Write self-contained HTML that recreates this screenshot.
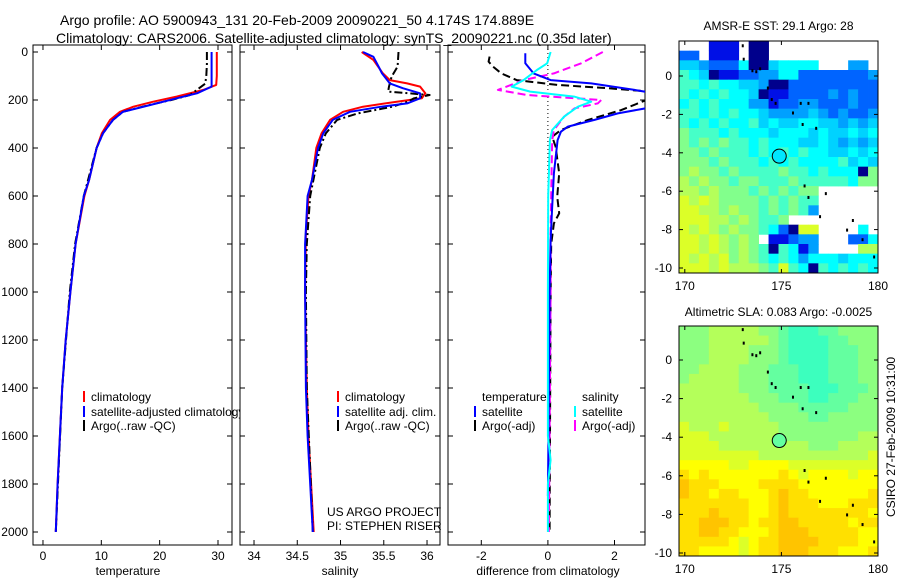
<!DOCTYPE html>
<html><head><meta charset="utf-8">
<style>
html,body{margin:0;padding:0;background:#fff;}
svg{display:block;font-family:"Liberation Sans",Arial,sans-serif;}
text{font-size:12px;fill:#000;}
</style></head>
<body>
<svg id="fig" width="900" height="580" viewBox="0 0 900 580" xmlns="http://www.w3.org/2000/svg">
<defs>
<clipPath id="c1"><rect x="33" y="45" width="199" height="500"/></clipPath>
<clipPath id="c1t"><rect x="33" y="45" width="207" height="500"/></clipPath>
<clipPath id="c2"><rect x="240" y="45" width="200" height="500"/></clipPath>
<clipPath id="c3"><rect x="448" y="45" width="197" height="500"/></clipPath>
</defs>
<text x="60" y="25" style="font-size:14px">Argo profile: AO 5900943_131 20-Feb-2009 20090221_50 4.174S 174.889E</text>
<text x="56" y="43" style="font-size:14px">Climatology: CARS2006. Satellite-adjusted climatology: synTS_20090221.nc (0.35d later)</text>
<g id="layer"></g>
</svg>
<script>
// ---------- profile data ----------
const tClimDepth=[0,50,100,137,158,186,207,228,249,283,338,400,533,600,800,1000,1200,1400,1600,1800,2000];
const tClim=[29.8,29.8,29.8,29.7,27.5,22.9,18.9,15.5,13.2,11.5,10.1,9.2,7.9,7.1,5.6,4.7,3.9,3.3,2.9,2.5,2.2];
const tSatDepth=[0,50,100,144,172,193,221,249,283,338,400,533,600,800,1000,1200,1400,1600,1800,2000];
const tSat=[28.9,28.9,28.9,28.9,26.4,22.9,18.4,13.7,12.0,10.3,9.2,7.9,7.0,5.6,4.7,3.9,3.3,2.9,2.5,2.2];
const tArgoDepth=[0,50,100,132,179,200,221,249,283,338,400,600,800,1000,1400,2000];
const tArgo=[28.1,28.1,28.0,27.8,25.2,22.0,18.2,13.7,12.0,10.3,9.2,7.0,5.5,4.6,3.3,2.2];

const sClimDepth=[0,33,89,117,131,144,172,193,207,228,249,283,339,400,533,600,757,1000,1400,1600,1800,2000];
const sClim=[35.245,35.38,35.49,35.57,35.77,35.92,35.98,35.94,35.65,35.26,35.03,34.88,34.78,34.72,34.67,34.63,34.6,34.59,34.61,34.63,34.66,34.69];
const sSatDepth=[0,20,61,89,131,151,172,193,214,228,249,283,339,400,533,600,800,1000,1400,1600,1800,2000];
const sSat=[35.26,35.38,35.44,35.48,35.57,35.72,35.92,35.92,35.77,35.47,35.11,34.91,34.80,34.74,34.67,34.62,34.59,34.59,34.60,34.62,34.65,34.68];
const sArgoDepth=[0,61,103,144,165,179,193,207,228,256,283,339,400,600,800,1000,1400,2000];
const sArgo=[35.67,35.66,35.59,35.56,35.55,36.03,35.85,35.78,35.60,35.20,34.96,34.83,34.76,34.65,34.61,34.60,34.61,34.68];

const dTSatDepth=[5,47,89,117,131,158,172,200,228,256,283,311,332,367,506,644,783,1000,1400,1850];
const dTSat=[-0.68,-0.68,-0.43,0.08,1.3,2.6,3.2,3.6,3.2,2.1,1.4,0.6,0.39,0.29,0.18,0.13,0.08,0.05,0.03,0.0];
const dTArgoDepth=[19,40,61,89,117,137,151,170,207,242,283,325,353,394,506,603,672,714,800,1000,2000];
const dTArgo=[-1.75,-1.78,-1.65,-1.4,-0.94,0.28,1.8,3.5,2.83,2.2,1.2,0.39,0.13,0.23,0.34,0.28,0.34,0.18,0.1,0.08,0.05];
const dSSatDepth=[0,47,75,117,144,165,186,207,228,269,325,367,506,600,1000,1600,1700,1800,2000];
const dSSat=[0.08,-0.02,-0.33,-0.73,-1.09,-0.53,0.79,1.3,0.9,0.49,0.13,0.06,0.03,0.01,0.0,0.0,0.08,0.0,0.0];
const dSArgoDepth=[0,47,89,117,158,179,200,214,235,269,325,367,500,756,1000,2000];
const dSArgo=[1.65,1.0,0.18,-0.73,-1.5,-0.63,1.6,1.5,0.8,0.49,0.18,0.13,0.11,0.08,0.08,0.03];

const depthTicks=[0,200,400,600,800,1000,1200,1400,1600,1800,2000];
const tempTicks=[0,10,20,30];
const salTicks=[34,34.5,35,35.5,36];
const salTickLabels=["34","34.5","35","35.5","36"];
const diffTicks=[-2,0,2];

// ---------- map data (rows north->south, cols west->east) ----------
const sstRows=[
"...111.00...........",
"22.111.00...........",
"44322250045555...33.",
"65401122335522222223",
"66565544300222222222",
"65656554011222232322",
"56565553312233222322",
"66565655433334323223",
"65656556454455443434",
"76665655545554544545",
"76767665655544543434",
"77676665656565544545",
"77767666565655556454",
"78776766667665655507",
"87877677666766666577",
"88787776767677......",
"98987777676766......",
"99887877676763......",
"99988787667.........",
"98987877652099....5.",
"99898787.11233...225",
"99898787606513....88",
"98989787656535554555",
"99989888769650656565"];
const slaRows=[
"77788888776555667777",
"77788888876555566777",
"77788887776555566677",
"77788887776555566677",
"77888877766655566677",
"78888877766655566677",
"88888877766665556667",
"88888887776665566677",
"88888888777766666777",
"88888888877776677777",
"98889888887777777777",
"99988888887777777788",
"99998888888887778888",
"99999999888888888889",
"aaaaa99aaaa999999999",
"babaaaaaaaba9aaaa9aa",
"cbbbaaaabbbbaaaaaaaa",
"cbbabbaaabcbbaaaaaab",
"bbbbbbbaabcbbbaaabbb",
"bbbcbbbaabcbbbbbbbba",
"bbcccbbabbccbbbbbabb",
"bbccbbaaabcccbbbbbaa",
"bbbbba9abbccccbbbbaa",
"bbaaaa9abbcccbbbaaab"];
const palette={"0":"#00008c","1":"#0010e6","2":"#0064ff","3":"#00a0ff","4":"#00d2ff","5":"#00ffff","6":"#46ffc8","7":"#82ff8c","8":"#b4ff5a","9":"#dcff28","a":"#ffff00","b":"#ffdc00","c":"#ffbe00"};
const slaPalette={"5":"#3cffbe","6":"#64ffa0","7":"#8cff80","8":"#b4ff5a","9":"#dcff28","a":"#ffff00","b":"#ffe000","c":"#ffc400"};
const latTicks=[0,-2,-4,-6,-8,-10];
const lonTicks=[170,175,180];
const argoLon=174.889, argoLat=-4.174;
const islandLon=[173.0,173.05,173.5,173.7,173.9,174.3,174.5,174.7,175.6,176.0,176.4,176.1,176.8,176.2,177.3,176.4,177.0,178.4,178.7,179.2,179.8];
const islandLat=[1.6,0.9,0.3,0.25,0.4,-0.6,-1.2,-1.4,-1.9,-1.4,-1.4,-2.5,-2.7,-5.7,-6.1,-6.3,-7.3,-8.0,-7.5,-8.5,-9.4];

// ---------- helpers ----------
const NS="http://www.w3.org/2000/svg";
const layer=document.getElementById('layer');
function mk(tag,attrs,parent){const e=document.createElementNS(NS,tag);for(const k in attrs)e.setAttribute(k,attrs[k]);(parent||layer).appendChild(e);return e;}
function txt(x,y,s,anchor,parent,size){const t=mk('text',{x:x,y:y,'text-anchor':anchor||'start'},parent);if(size)t.style.fontSize=size+'px';t.textContent=s;return t;}

const yTop=52, yPerM=0.24;
function yD(d){return yTop+d*yPerM;}
const panels=[
 {x0:33,x1:232,vmin:-1.71,vmax:32.4,name:'temperature'},
 {x0:240,x1:440,vmin:33.838,vmax:36.150,name:'salinity'},
 {x0:448,x1:645,vmin:-3.0,vmax:2.916,name:'difference'}];
function xP(p,v){return p.x0+(v-p.vmin)/(p.vmax-p.vmin)*(p.x1-p.x0);}
const pTop=45,pBot=545;

function drawLine(p,depths,vals,color,dash,clip,name){
  let d='';
  for(let i=0;i<vals.length;i++){d+=(i?'L':'M')+xP(p,vals[i]).toFixed(1)+','+yD(depths[i]).toFixed(1);}
  const el=mk('path',{d:d,fill:'none',stroke:color,'stroke-width':2,'clip-path':'url(#'+clip+')','stroke-linejoin':'round'});
  if(dash)el.setAttribute('stroke-dasharray',dash);
  
  
}

panels.forEach((p,pi)=>{
  const box=mk('rect',{x:p.x0,y:pTop,width:p.x1-p.x0,height:pBot-pTop,fill:'none',stroke:'#000','stroke-width':1});
  
  
  depthTicks.forEach(d=>{
    mk('line',{x1:p.x0,x2:p.x0+5,y1:yD(d),y2:yD(d),stroke:'#000'});
    mk('line',{x1:p.x1,x2:p.x1-5,y1:yD(d),y2:yD(d),stroke:'#000'});
  });
});
depthTicks.forEach(d=>{
  const t=txt(28,yD(d)+4,String(d),'end');
  
  
});
function xTicks(p,ticks,labels){
  ticks.forEach((v,i)=>{
    const x=xP(p,v);
    mk('line',{x1:x,x2:x,y1:pBot,y2:pBot-5,stroke:'#000'});
    mk('line',{x1:x,x2:x,y1:pTop,y2:pTop+5,stroke:'#000'});
    const t=txt(x,560,labels?labels[i]:String(v),'middle');
    
    
  });
}
xTicks(panels[0],tempTicks);
xTicks(panels[1],salTicks,salTickLabels);
xTicks(panels[2],diffTicks);
let t;
t=txt(128,575,'temperature','middle');
t=txt(340,575,'salinity','middle');
t=txt(548,575,'difference from climatology','middle');

const zl=mk('line',{x1:xP(panels[2],0),x2:xP(panels[2],0),y1:pTop,y2:yD(800),stroke:'#000','stroke-width':1,'stroke-dasharray':'1,3'});



drawLine(panels[0],tClimDepth,tClim,'#ff0000',null,'c1','temp-climatology-line');
drawLine(panels[0],tArgoDepth,tArgo,'#000000','8,3,2,3','c1','temp-argo-line');
drawLine(panels[0],tSatDepth,tSat,'#0000ff',null,'c1','temp-satellite-line');
drawLine(panels[1],sClimDepth,sClim,'#ff0000',null,'c2','sal-climatology-line');
drawLine(panels[1],sArgoDepth,sArgo,'#000000','8,3,2,3','c2','sal-argo-line');
drawLine(panels[1],sSatDepth,sSat,'#0000ff',null,'c2','sal-satellite-line');
drawLine(panels[2],dTArgoDepth,dTArgo,'#000000','8,4','c3','diff-temp-argo-line');
drawLine(panels[2],dSArgoDepth,dSArgo,'#ff00ff','8,4','c3','diff-sal-argo-line');
drawLine(panels[2],dTSatDepth,dTSat,'#0000ff',null,'c3','diff-temp-satellite-line');
drawLine(panels[2],dSSatDepth,dSSat,'#00ffff',null,'c3','diff-sal-satellite-line');

function legEntry(mx,tx,y,color,label,clip,name){
  const g=mk('g',{});
  if(clip)g.setAttribute('clip-path','url(#'+clip+')');
  
  
  if(color)mk('line',{x1:mx,x2:mx,y1:y-6,y2:y+5,stroke:color,'stroke-width':2},g);
  txt(tx,y+4,label,'start',g);
}
legEntry(84,91,397,'#ff0000','climatology','c1t','legend-temp-climatology');
legEntry(84,91,412,'#0000ff','satellite-adjusted climatology','c1t','legend-temp-satellite');
legEntry(84,91,426,'#000','Argo(..raw -QC)','c1t','legend-temp-argo');
legEntry(338,345,397,'#ff0000','climatology',null,'legend-sal-climatology');
legEntry(338,345,412,'#0000ff','satellite adj. clim.',null,'legend-sal-satellite');
legEntry(338,345,426,'#000','Argo(..raw -QC)',null,'legend-sal-argo');
legEntry(0,482,397,null,'temperature',null,'legend-temperature-header');
legEntry(475,482,412,'#0000ff','satellite',null,'legend-diff-temp-satellite');
legEntry(475,482,426,'#000','Argo(-adj)',null,'legend-diff-temp-argo');
legEntry(0,582,397,null,'salinity',null,'legend-salinity-header');
legEntry(575,582,412,'#00ffff','satellite',null,'legend-diff-sal-satellite');
legEntry(575,582,426,'#ff00ff','Argo(-adj)',null,'legend-diff-sal-argo');
t=txt(327,516,'US ARGO PROJECT');
t=txt(327,530,'PI: STEPHEN RISER');

// ---------- maps ----------
function drawMap(m){
  const lonX=v=>m.x0+(v-m.lonMin)/(m.lonMax-m.lonMin)*(m.x1-m.x0);
  const latY=v=>m.yLat0+(0-v)*m.pxPerDeg;
  const latTop=(m.yLat0-m.y0)/m.pxPerDeg, latBot=-(m.y1-m.yLat0)/m.pxPerDeg;
  const g=mk('g',{});
  
  
  const nr=m.rows.length, nc=m.rows[0].length;
  const dLat=(latTop-latBot)/nr, dLon=(m.lonMax-m.lonMin)/nc;
  for(let r=0;r<nr;r++)for(let c=0;c<nc;c++){
    const ch=m.rows[r][c]; if(ch==='.')continue;
    const x=lonX(m.lonMin+c*dLon), x2=lonX(m.lonMin+(c+1)*dLon);
    const y=latY(latTop-r*dLat), y2=latY(latTop-(r+1)*dLat);
    const cell=mk('rect',{x:x.toFixed(2),y:y.toFixed(2),width:(x2-x+0.4).toFixed(2),height:(y2-y+0.4).toFixed(2),fill:m.pal[ch]},g);
    
    
  }
  islandLon.forEach((lo,i)=>{
    const d=mk('rect',{x:lonX(lo)-1,y:latY(islandLat[i])-1,width:2,height:3,fill:'#000'},g);
    
    
  });
  const circ=mk('circle',{cx:lonX(argoLon),cy:latY(argoLat),r:7,fill:m.circleFill,stroke:'#000','stroke-width':1});
  
  
  const box=mk('rect',{x:m.x0,y:m.y0,width:m.x1-m.x0,height:m.y1-m.y0,fill:'none',stroke:'#000'});
  
  
  latTicks.forEach(v=>{
    const y=latY(v);
    mk('line',{x1:m.x0,x2:m.x0+4,y1:y,y2:y,stroke:'#000'});
    mk('line',{x1:m.x1,x2:m.x1-4,y1:y,y2:y,stroke:'#000'});
    const tl=txt(m.x0-7,y+4,String(v),'end');
    
    
  });
  lonTicks.forEach(v=>{
    const x=lonX(v);
    mk('line',{x1:x,x2:x,y1:m.y1,y2:m.y1-4,stroke:'#000'});
    mk('line',{x1:x,x2:x,y1:m.y0,y2:m.y0+4,stroke:'#000'});
    const tl=txt(x,m.y1+17,String(v),'middle');
    
    
  });
  const tt=txt((m.x0+m.x1)/2,m.titleY,m.title,'middle');
  
  
}
drawMap({name:'sst-map',rows:sstRows,pal:palette,x0:679,x1:878,y0:41,y1:273,lonMin:169.7,lonMax:180,yLat0:76,pxPerDeg:19.2,title:'AMSR-E SST: 29.1 Argo: 28',titleY:30,circleFill:'#00e6ff'});
drawMap({name:'sla-map',rows:slaRows,pal:slaPalette,x0:679,x1:878,y0:326,y1:556,lonMin:169.7,lonMax:180,yLat0:360,pxPerDeg:19.3,title:'Altimetric SLA: 0.083 Argo: -0.0025',titleY:316,circleFill:'#64ffa0'});
const cs=mk('text',{x:0,y:0,transform:'translate(895,437) rotate(-90)','text-anchor':'middle'});
cs.textContent='CSIRO 27-Feb-2009 10:31:00';


</script>
</body></html>
